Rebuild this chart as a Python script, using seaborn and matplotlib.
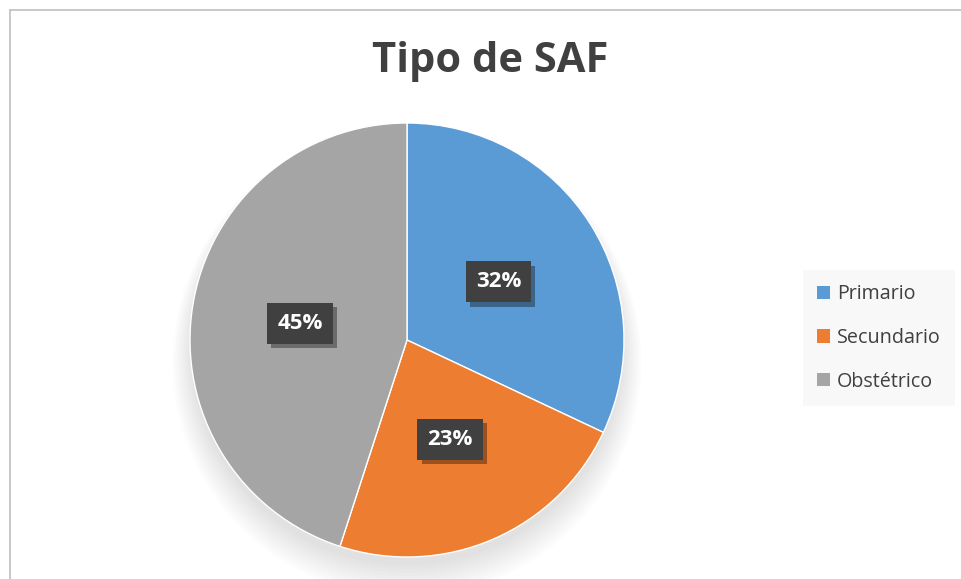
import numpy as np
import matplotlib.pyplot as plt
import matplotlib.patheffects as pe
from matplotlib.patches import Circle
from matplotlib.lines import Line2D
import seaborn as sns

# datos
categorias = ["Primario", "Secundario", "Obstétrico"]
porcentajes = [32, 23, 45]
colores = ["#5B9BD5", "#ED7D31", "#A5A5A5"]

sns.set_theme(style="white")
plt.rcParams['font.family'] = ['Open Sans', 'DejaVu Sans']

fig = plt.figure(figsize=(9.61, 5.79), dpi=100)
W, H = 961, 579

# borde del area del grafico
fig.add_artist(Line2D([10 / W, 1], [1 - 10 / H] * 2, color="#BFBFBF", lw=1.2))
fig.add_artist(Line2D([10 / W] * 2, [0, 1 - 10 / H], color="#BFBFBF", lw=1.2))

cx, cy, r = 407, 340, 217
ax = fig.add_axes([(cx - r) / W, (H - cy - r) / H, 2 * r / W, 2 * r / H])
ax.axis("off")

# sombra suave, desplazada hacia abajo
for i in range(10):
    ax.add_patch(Circle((0.0, -0.05 - 0.006 * i), 0.99 + 0.01 * i,
                        color="black", alpha=0.012, lw=0, clip_on=False))

wedges, _ = ax.pie(porcentajes, colors=colores, startangle=90, counterclock=False,
                   radius=1.0, wedgeprops=dict(edgecolor="white", linewidth=1))
ax.set_xlim(-1, 1)
ax.set_ylim(-1, 1)
ax.set_aspect("equal")

# etiquetas de porcentaje
ang = 90.0
for p in porcentajes:
    mid = ang - p * 3.6 / 2
    ang -= p * 3.6
    x = 0.5 * np.cos(np.radians(mid))
    y = 0.5 * np.sin(np.radians(mid))
    t = ax.text(x, y, f"{p}%", ha="center", va="center", color="white",
                fontsize=16, fontweight="bold",
                bbox=dict(boxstyle="square,pad=0.45", facecolor="#404040", edgecolor="none"))
    t.get_bbox_patch().set_path_effects([
        pe.SimplePatchShadow(offset=(3, -3), shadow_rgbFace="black", alpha=0.35),
        pe.Normal()])

fig.text(490 / W, 1 - 62 / H, "Tipo de SAF", ha="center", va="center",
         fontsize=30, fontweight="bold", color="#404040")

leg = ax.legend(wedges, categorias, loc="upper left",
                bbox_to_anchor=(803 / W, 1 - 270 / H), bbox_transform=fig.transFigure,
                borderaxespad=0, frameon=True, facecolor="#F7F7F7", edgecolor="none",
                fancybox=False, fontsize=14.2, labelspacing=1.2,
                handlelength=0.65, handleheight=0.65, handletextpad=0.35,
                borderpad=0.72)
for txt in leg.get_texts():
    txt.set_color("#404040")
for h in leg.legend_handles:
    h.set_edgecolor("none")

fig.savefig("out.png", dpi=100)
